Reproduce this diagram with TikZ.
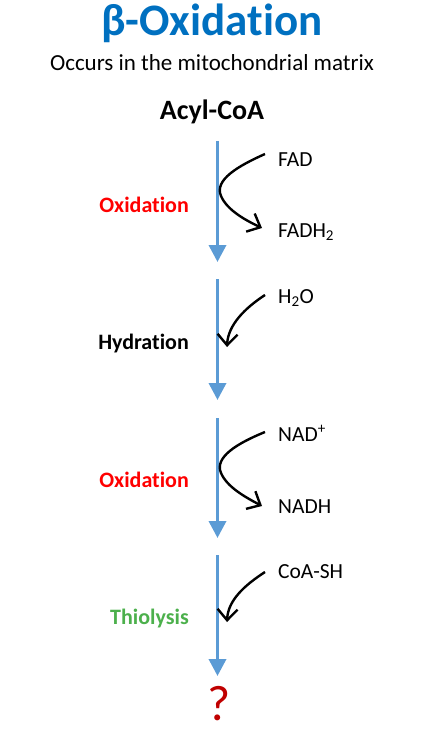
\documentclass[tikz,border=0pt]{standalone}
\usepackage{fontspec}
\setmainfont{Carlito}[Ligatures=NoCommon]
\usetikzlibrary{arrows.meta}
\definecolor{titleblue}{HTML}{0070C0}
\definecolor{flowblue}{HTML}{5B9BD5}
\definecolor{oxred}{HTML}{FF0000}
\definecolor{thiogreen}{HTML}{4CB04C}
\definecolor{qred}{HTML}{C00000}
\begin{document}
\begin{tikzpicture}[x=1pt,y=-1pt,step arrow/.style={draw=flowblue,line width=3.5pt,-{Triangle[length=17pt,width=17pt]}},cofactor/.style={draw,line width=2.4pt,-{Straight Barb[length=11pt,width=20pt]}},stage/.style={inner sep=0,anchor=base east,font=\fontsize{22}{24}\selectfont\bfseries},reagent/.style={inner sep=0,anchor=base west,font=\fontsize{21.5}{24}\selectfont}]
  \useasboundingbox (0,0) rectangle (423,730);
  % headings
  \node[inner sep=0,anchor=base,text=titleblue,font=\fontsize{45}{48}\selectfont\bfseries] (title) at (212,36) {β-Oxidation};
  \node[inner sep=0,anchor=base,font=\fontsize{23}{26}\selectfont] (sub) at (212,71) {Occurs in the mitochondrial matrix};
  \node[inner sep=0,anchor=base,font=\fontsize{28}{31}\selectfont\bfseries] (acyl) at (212,120) {Acyl-CoA};
  \node[inner sep=0,anchor=base,text=qred,font=\fontsize{50}{52}\selectfont] (product) at (219,720) {?};
  % stages
  \node[stage,text=oxred] (ox1) at (189,212) {Oxidation};
  \node[stage] (hyd) at (189,349) {Hydration};
  \node[stage,text=oxred] (ox2) at (189,487) {Oxidation};
  \node[stage,text=thiogreen] (thio) at (189,624) {Thiolysis};
  % cofactors
  \node[reagent] (fad) at (278,167) {FAD};
  \node[reagent] (fadh) at (278,237) {FADH\textsubscript{2}};
  \node[reagent] (water) at (278,303) {H\textsubscript{2}O};
  \node[reagent] (nad) at (278,441) {NAD\textsuperscript{+}};
  \node[reagent] (nadh) at (278,513) {NADH};
  \node[reagent] (coash) at (278,578) {CoA-SH};
  % main flow
  \coordinate (s1) at (217.5,141);
  \coordinate (e1) at (217.5,262);
  \coordinate (s2) at (217.5,279);
  \coordinate (e2) at (217.5,400);
  \coordinate (s3) at (217.5,418);
  \coordinate (e3) at (217.5,538);
  \coordinate (s4) at (217.5,555);
  \coordinate (e4) at (217.5,676);
  \path[step arrow] (s1) -- (e1);
  \path[step arrow] (s2) -- (e2);
  \path[step arrow] (s3) -- (e3);
  \path[step arrow] (s4) -- (e4);
  % side arrows
  \path[cofactor] ([shift={(-13,-13)}]fad.base west) .. controls (238,166) and (214,180) .. (221,196) .. controls (227,210) and (245,220) .. ([shift={(-16,-9)}]fadh.base west);
  \path[cofactor] ([shift={(-13,-8)}]water.base west) .. controls (245,308) and (228,325) .. (227,347);
  \path[cofactor] ([shift={(-13,-9)}]nad.base west) .. controls (238,443) and (214,457) .. (221,473) .. controls (227,487) and (245,497) .. ([shift={(-16,-7)}]nadh.base west);
  \path[cofactor] ([shift={(-13,-6)}]coash.base west) .. controls (245,585) and (228,600) .. (227,622);
\end{tikzpicture}
\end{document}
